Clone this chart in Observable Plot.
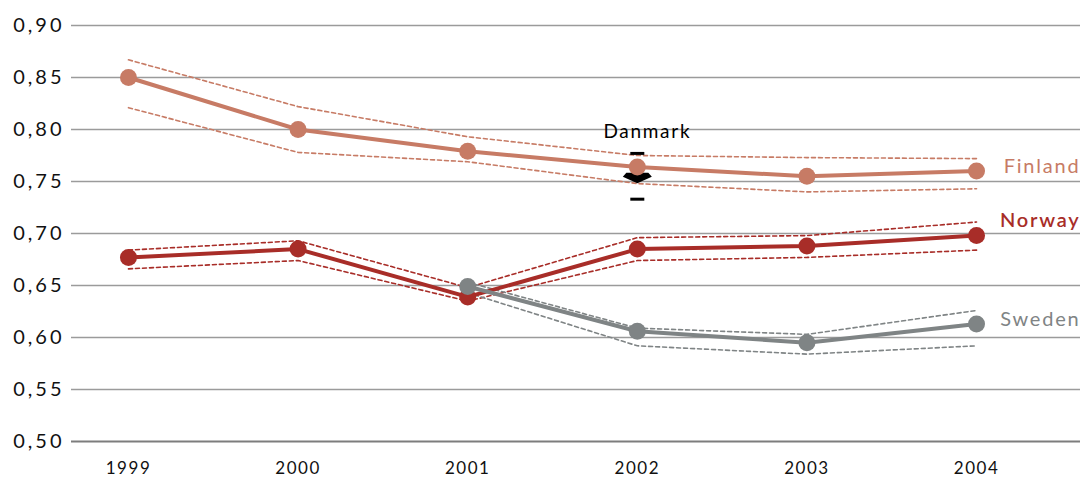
<!DOCTYPE html>
<html>
<head>
<meta charset="utf-8">
<script src="https://cdn.jsdelivr.net/npm/d3@7"></script>
<script src="https://cdn.jsdelivr.net/npm/@observablehq/plot@0.6"></script>
<style>
  html, body { margin: 0; padding: 0; background: #fff; }
  #chart svg { display: block; }
  #chart text { letter-spacing: 0.09em; }
  #chart .yaxis text { letter-spacing: 0.15em; }
</style>
</head>
<body>
<div id="chart"></div>
<script>
// Index values per year, with lower / upper bounds of the confidence band
const years = [1999, 2000, 2001, 2002, 2003, 2004];

const finland     = [0.850, 0.800, 0.779, 0.764, 0.755, 0.760];
const finlandLow  = [0.821, 0.778, 0.769, 0.748, 0.740, 0.743];
const finlandHigh = [0.867, 0.822, 0.793, 0.775, 0.773, 0.772];

const norway      = [0.677, 0.685, 0.639, 0.685, 0.688, 0.698];
const norwayLow   = [0.666, 0.674, 0.635, 0.674, 0.677, 0.684];
const norwayHigh  = [0.684, 0.693, 0.648, 0.696, 0.698, 0.711];

const swedenYears = [2001, 2002, 2003, 2004];
const sweden      = [0.649, 0.606, 0.595, 0.613];
const swedenLow   = [0.643, 0.592, 0.584, 0.592];
const swedenHigh  = [0.653, 0.609, 0.603, 0.626];

// Denmark: a single observation in 2002
const danmarkYear = 2002;
const danmark     = 0.7545;
const danmarkLow  = 0.733;
const danmarkHigh = 0.777;

const yTicks = [0.50, 0.55, 0.60, 0.65, 0.70, 0.75, 0.80, 0.85, 0.90];

const colors = { Finland: "#c77b65", Norway: "#a82d28", Sweden: "#7f8485" };

function rows(name, xs, v, lo, hi) {
  return xs.map((year, i) => ({ name, year, value: v[i], low: lo[i], high: hi[i] }));
}
const series = [
  rows("Finland", years, finland, finlandLow, finlandHigh),
  rows("Norway", years, norway, norwayLow, norwayHigh),
  rows("Sweden", swedenYears, sweden, swedenLow, swedenHigh)
];
const labelOffset = { Finland: -5, Norway: -15, Sweden: -4 };
const labelWeight = { Finland: 400, Norway: 600, Sweden: 400 };

const danmarkRow = [{ year: danmarkYear, value: danmark, low: danmarkLow, high: danmarkHigh }];

// Custom marker shapes for the Denmark estimate
const chevron = {
  draw(ctx) {
    ctx.moveTo(-14.5, 0);
    ctx.lineTo(-11, -4);
    ctx.lineTo(11, -4);
    ctx.lineTo(14.5, 0);
    ctx.lineTo(0, 6.5);
    ctx.closePath();
  }
};
const dash = {
  draw(ctx) {
    ctx.moveTo(-7, -1.5);
    ctx.lineTo(7, -1.5);
    ctx.lineTo(7, 1.5);
    ctx.lineTo(-7, 1.5);
    ctx.closePath();
  }
};

const font = "Lato, 'Open Sans', sans-serif";

const marks = [
  Plot.ruleY(yTicks.filter(d => d !== 0.5), { stroke: "#9b9b9b", strokeWidth: 1.5 }),
  Plot.ruleY([0.5], { stroke: "#7d7d7d", strokeWidth: 2 }),
  Plot.axisY({
    ticks: yTicks, tickSize: 0, tickPadding: 7, fontSize: 20, fill: "#111",
    tickFormat: d => d.toFixed(2).replace(".", ","), label: null, className: "yaxis"
  }),
  Plot.axisX({
    ticks: years, tickSize: 0, tickPadding: 20, fontSize: 17, fill: "#111",
    tickFormat: d => String(d), label: null
  })
];

// confidence bands as dashed lines
for (const s of series) {
  const c = colors[s[0].name];
  marks.push(
    Plot.line(s, { x: "year", y: "high", stroke: c, strokeWidth: 1.6, strokeDasharray: "4,3" }),
    Plot.line(s, { x: "year", y: "low", stroke: c, strokeWidth: 1.6, strokeDasharray: "4,3" })
  );
}

// Denmark marker, whiskers and label
marks.push(
  Plot.dot(danmarkRow, { x: "year", y: "high", symbol: dash, fill: "#000", stroke: null }),
  Plot.dot(danmarkRow, { x: "year", y: "low", symbol: dash, fill: "#000", stroke: null }),
  Plot.dot(danmarkRow, { x: "year", y: "value", symbol: chevron, fill: "#000", stroke: null }),
  Plot.text(danmarkRow, { x: "year", y: "high", text: () => "Danmark", dx: 10, dy: -22, fontSize: 19, fill: "#000" })
);

// main series lines, dots and end labels
for (const s of series) {
  const name = s[0].name;
  const c = colors[name];
  marks.push(
    Plot.line(s, { x: "year", y: "value", stroke: c, strokeWidth: 4 }),
    Plot.dot(s, { x: "year", y: "value", r: 8.5, fill: c, stroke: null }),
    Plot.text([s[s.length - 1]], {
      x: "year", y: "value", text: () => name, textAnchor: "end",
      dx: 104, dy: labelOffset[name], fontSize: 20, fill: c, fontWeight: labelWeight[name]
    })
  );
}

const chart = Plot.plot({
  width: 1080,
  height: 477,
  marginLeft: 71,
  marginRight: 0,
  marginTop: 25,
  marginBottom: 36,
  style: { fontFamily: font, background: "#fff", overflow: "visible" },
  x: { type: "linear", domain: [1998.664, 2004.613] },
  y: { domain: [0.5, 0.9] },
  marks
});
document.getElementById("chart").appendChild(chart);
</script>
</body>
</html>
